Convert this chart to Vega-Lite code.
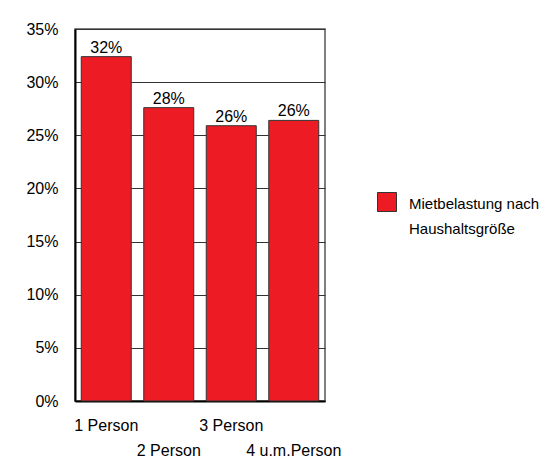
{
  "$schema": "https://vega.github.io/schema/vega-lite/v6.json",
  "width": 250,
  "height": 372,
  "autosize": "none",
  "padding": {"left": 75, "top": 29, "right": 231, "bottom": 69},
  "background": "white",
  "config": {
    "font": "Liberation Sans",
    "view": {"stroke": "#555", "strokeWidth": 1.5}
  },
  "data": {
    "values": [
      {"groesse": "1 Person", "anteil": 0.324, "serie": "Mietbelastung nach Haushaltsgröße"},
      {"groesse": "2 Person", "anteil": 0.276, "serie": "Mietbelastung nach Haushaltsgröße"},
      {"groesse": "3 Person", "anteil": 0.259, "serie": "Mietbelastung nach Haushaltsgröße"},
      {"groesse": "4 u.m.Person", "anteil": 0.264, "serie": "Mietbelastung nach Haushaltsgröße"}
    ]
  },
  "encoding": {
    "x": {
      "field": "groesse",
      "type": "nominal",
      "sort": null,
      "scale": {"paddingInner": 0.2, "paddingOuter": 0.1},
      "axis": {
        "title": null,
        "labelAngle": 0,
        "ticks": false,
        "domainColor": "black",
        "domainWidth": 2,
        "labelPadding": 16,
        "labelFontSize": 16,
        "labelColor": "black",
        "labelBaseline": "top",
        "labelLineHeight": 25,
        "labelExpr": "indexof(['2 Person','4 u.m.Person'], datum.value) >= 0 ? ['', datum.label] : datum.label"
      }
    },
    "y": {
      "field": "anteil",
      "type": "quantitative",
      "scale": {"domain": [0, 0.35], "nice": false},
      "axis": {
        "title": null,
        "format": ".0%",
        "values": [0, 0.05, 0.1, 0.15, 0.2, 0.25, 0.3, 0.35],
        "grid": true,
        "gridColor": "#333",
        "gridWidth": 1,
        "gridOpacity": 1,
        "ticks": false,
        "domainColor": "black",
        "domainWidth": 2,
        "labelPadding": 17,
        "labelFontSize": 16,
        "labelColor": "black"
      }
    }
  },
  "layer": [
    {
      "mark": {"type": "bar", "stroke": "#333", "strokeWidth": 1},
      "encoding": {
        "fill": {
          "field": "serie",
          "type": "nominal",
          "scale": {"range": ["#ED1C24"]},
          "legend": {
            "title": null,
            "orient": "none",
            "legendX": 302,
            "legendY": 163,
            "symbolType": "square",
            "symbolSize": 361,
            "symbolStrokeColor": "#333",
            "symbolStrokeWidth": 1,
            "symbolOpacity": 1,
            "labelFontSize": 15,
            "labelColor": "black",
            "labelOffset": 12,
            "labelBaseline": "top",
            "labelLimit": 200,
            "labelExpr": "['Mietbelastung nach', 'Haushaltsgröße']",
            "encode": {"labels": {"update": {"dy": {"value": -5}, "lineHeight": {"value": 25}}}}
          }
        }
      }
    },
    {
      "mark": {"type": "text", "dy": -4, "baseline": "alphabetic", "fontSize": 16, "color": "black"},
      "encoding": {"text": {"field": "anteil", "type": "quantitative", "format": ".0%"}}
    }
  ]
}
